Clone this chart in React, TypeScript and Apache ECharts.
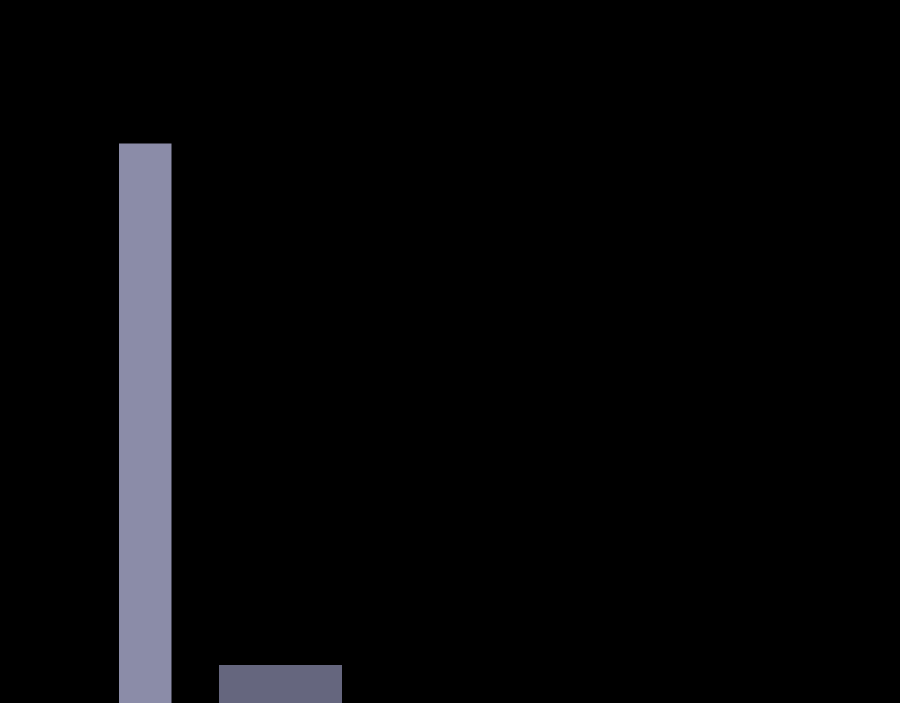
import React, { useEffect, useRef } from 'react'
import * as echarts from 'echarts'

// bins on the x scale: [start, end, value]
const binStarts = [11.9, 21.9]
const binEnds = [17.15, 34.2]
const binValues = [79.6, 5.4]
const binColors = ['#8b8ca8', '#65667e']

const App: React.FC = () => {
  const chartRef = useRef<HTMLDivElement>(null)

  useEffect(() => {
    if (!chartRef.current) return
    document.body.style.margin = '0'
    document.body.style.background = '#000'

    const chart = echarts.init(chartRef.current, undefined, { renderer: 'svg' })

    const data = binValues.map((v, i) => [binStarts[i], binEnds[i], v])

    chart.setOption({
      animation: false,
      backgroundColor: '#000',
      grid: { left: 0, right: 0, top: 0, bottom: 0 },
      xAxis: { type: 'value', min: 0, max: 90, show: false },
      yAxis: { type: 'value', min: 0, max: 100, show: false },
      series: [
        {
          type: 'custom',
          data,
          renderItem: (params: any, api: any) => {
            const start = api.coord([api.value(0), api.value(2)])
            const end = api.coord([api.value(1), 0])
            return {
              type: 'rect',
              shape: {
                x: start[0],
                y: start[1],
                width: end[0] - start[0],
                height: end[1] - start[1]
              },
              style: { fill: binColors[params.dataIndex] }
            }
          }
        }
      ]
    })

    return () => {
      chart.dispose()
    }
  }, [])

  return <div ref={chartRef} style={{ width: 900, height: 703 }} />
}

export default App
